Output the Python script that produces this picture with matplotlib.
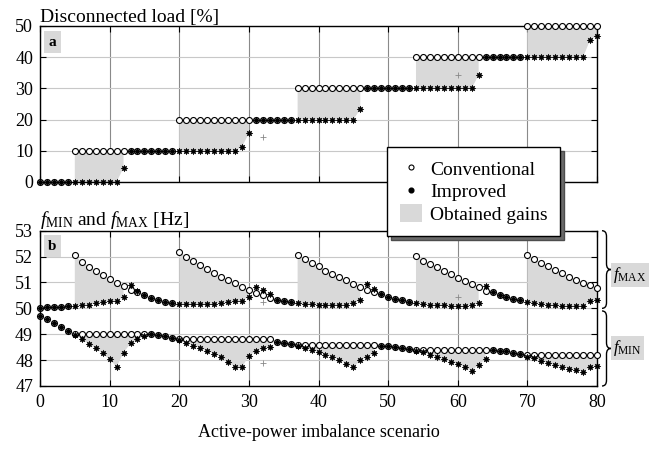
import numpy as np
import matplotlib
matplotlib.use("Agg")
import matplotlib.pyplot as plt
from matplotlib.lines import Line2D
from matplotlib.patches import Patch, PathPatch
from matplotlib.path import Path
from matplotlib.transforms import blended_transform_factory

plt.rcParams['font.family'] = ['Liberation Serif', 'DejaVu Serif']
plt.rcParams['mathtext.fontset'] = 'custom'
plt.rcParams['mathtext.rm'] = 'Liberation Serif'
plt.rcParams['mathtext.it'] = 'Liberation Serif:italic'
plt.rcParams['mathtext.bf'] = 'Liberation Serif:bold'

# ---------------- data ----------------
scenarios = list(range(81))

load_conv = [0, 0, 0, 0, 0,
             10, 10, 10, 10, 10, 10, 10, 10, 10, 10, 10, 10, 10, 10, 10,
             20, 20, 20, 20, 20, 20, 20, 20, 20, 20, 20, 20, 20, 20, 20, 20, 20,
             30, 30, 30, 30, 30, 30, 30, 30, 30, 30, 30, 30, 30, 30, 30, 30, 30,
             40, 40, 40, 40, 40, 40, 40, 40, 40, 40, 40, 40, 40, 40, 40, 40,
             50, 50, 50, 50, 50, 50, 50, 50, 50, 50, 50]

load_impr = [0, 0, 0, 0, 0, 0, 0, 0, 0, 0, 0, 0, 4.6,
             10, 10, 10, 10, 10, 10, 10, 10, 10, 10, 10, 10, 10, 10, 10, 10, 11.2, 15.6,
             20, 20, 20, 20, 20, 20, 20, 20, 20, 20, 20, 20, 20, 20, 20, 23.3,
             30, 30, 30, 30, 30, 30, 30, 30, 30, 30, 30, 30, 30, 30, 30, 30, 34.3,
             40, 40, 40, 40, 40, 40, 40, 40, 40, 40, 40, 40, 40, 40, 40, 45.5, 46.8]

fmax_conv = [50.03, 50.04, 50.05, 50.06, 50.08,
             52.07, 51.79, 51.61, 51.43, 51.28, 51.12, 50.98, 50.85, 50.71, 50.64,
             50.50, 50.41, 50.32, 50.26, 50.22,
             52.19, 52.00, 51.83, 51.68, 51.52, 51.37, 51.22, 51.10, 50.97, 50.84, 50.71, 50.61, 50.50, 50.41,
             50.32, 50.27, 50.23,
             52.07, 51.89, 51.77, 51.62, 51.46, 51.34, 51.22, 51.08, 50.95, 50.84, 50.71, 50.63,
             50.54, 50.45, 50.36, 50.31, 50.26,
             52.02, 51.84, 51.70, 51.58, 51.46, 51.33, 51.17, 51.04, 50.93, 50.81, 50.68,
             50.62, 50.53, 50.45, 50.37, 50.31,
             52.07, 51.91, 51.77, 51.62, 51.49, 51.35, 51.22, 51.10, 50.99, 50.90, 50.77]

fmax_impr = [50.03, 50.04, 50.05, 50.06, 50.08,
             50.09, 50.12, 50.14, 50.19, 50.24, 50.28, 50.30, 50.43, 50.89, 50.68,
             50.50, 50.41, 50.32, 50.26, 50.22,
             50.16, 50.15, 50.15, 50.15, 50.17, 50.18, 50.21, 50.23, 50.27, 50.30, 50.45, 50.82, 50.71, 50.54,
             50.32, 50.27, 50.23,
             50.19, 50.17, 50.15, 50.14, 50.13, 50.13, 50.13, 50.13, 50.21, 50.31, 50.94, 50.75,
             50.54, 50.45, 50.36, 50.31, 50.26,
             50.22, 50.17, 50.14, 50.13, 50.12, 50.10, 50.10, 50.10, 50.12, 50.19, 50.85,
             50.62, 50.53, 50.45, 50.37, 50.31,
             50.24, 50.21, 50.17, 50.14, 50.12, 50.10, 50.09, 50.09, 50.09, 50.30, 50.32]

fmin_conv = [49.72, 49.57, 49.42, 49.27, 49.12,
             49.00, 49.00, 49.00, 49.00, 49.00, 49.00, 49.00, 49.00, 49.00, 49.00, 49.00,
             49.00, 48.98, 48.92, 48.85,
             48.80, 48.80, 48.80, 48.80, 48.80, 48.80, 48.80, 48.80, 48.80, 48.80, 48.80, 48.80, 48.80, 48.80,
             48.71, 48.67, 48.62,
             48.60, 48.60, 48.60, 48.60, 48.60, 48.60, 48.60, 48.60, 48.60, 48.60, 48.60, 48.60,
             48.56, 48.54, 48.52, 48.48, 48.43,
             48.40, 48.40, 48.40, 48.40, 48.40, 48.40, 48.40, 48.40, 48.40, 48.40, 48.40,
             48.39, 48.36, 48.34, 48.29, 48.25,
             48.20, 48.20, 48.20, 48.20, 48.20, 48.20, 48.20, 48.20, 48.20, 48.20, 48.20]

fmin_impr = [49.72, 49.57, 49.42, 49.27, 49.12,
             48.98, 48.81, 48.63, 48.45, 48.26, 48.03, 47.74, 48.29, 48.65, 48.80, 48.93,
             49.00, 48.98, 48.92, 48.85,
             48.78, 48.67, 48.56, 48.47, 48.36, 48.25, 48.11, 47.94, 47.73, 47.72, 48.16, 48.34, 48.45, 48.52,
             48.71, 48.67, 48.62,
             48.54, 48.47, 48.39, 48.31, 48.21, 48.12, 48.02, 47.86, 47.72, 47.99, 48.13, 48.28,
             48.56, 48.54, 48.52, 48.48, 48.43,
             48.35, 48.30, 48.20, 48.11, 48.03, 47.94, 47.85, 47.72, 47.59, 47.82, 48.04,
             48.39, 48.36, 48.34, 48.29, 48.25,
             48.13, 48.07, 47.98, 47.87, 47.80, 47.73, 47.67, 47.62, 47.55, 47.73, 47.78]

# faint extra marks (grey crosses)
extra_load_x = [32, 60]
extra_load_y = [14.5, 34.3]
extra_freq_x = [32, 32, 60]
extra_freq_y = [50.23, 47.87, 50.43]

x_ticks = [0, 10, 20, 30, 40, 50, 60, 70, 80]
load_ticks = [0, 10, 20, 30, 40, 50]
freq_ticks = [47, 48, 49, 50, 51, 52, 53]

# ---------------- style ----------------
GAIN = '#d9d9d9'
FS = 14
TFS = 13
W, H = 650, 450

fig = plt.figure(figsize=(6.5, 4.5), dpi=100)
axL, axR = 40 / W, 597 / W
ax1 = fig.add_axes([axL, 1 - 182 / H, axR - axL, (182 - 26) / H])
ax2 = fig.add_axes([axL, 1 - 386 / H, axR - axL, (386 - 230.7) / H])

x = np.array(scenarios)


def style_axis(ax):
    ax.set_xlim(0, 80)
    ax.set_xticks(x_ticks)
    ax.tick_params(direction='in', top=True, right=True, length=4, width=0.8,
                   labelsize=TFS)
    ax.tick_params(axis='x', pad=6)
    ax.tick_params(axis='y', pad=5)
    ax.xaxis.grid(True, color='#8a8a8a', lw=0.8, zorder=0)
    ax.yaxis.grid(True, color='#c8c8c8', lw=0.8, zorder=0)
    ax.set_axisbelow(True)
    for s in ax.spines.values():
        s.set_linewidth(1.0)


def draw_pair(ax, conv, impr):
    conv = np.array(conv, float)
    impr = np.array(impr, float)
    mask = (conv - impr) > 0.015
    ax.fill_between(x, impr, conv, where=mask, color=GAIN, lw=0, zorder=1)
    ax.plot(x, conv, ls='none', marker='o', ms=4.3, mfc='white', mec='black',
            mew=0.8, zorder=3, clip_on=False)
    ax.plot(x, impr, ls='none', marker=(8, 1, 0), ms=5.0, color='black',
            mew=0.3, zorder=4, clip_on=False)


# ---- panel a ----
style_axis(ax1)
draw_pair(ax1, load_conv, load_impr)
ax1.plot(extra_load_x, extra_load_y, ls='none', marker='+', ms=4.5, color='#888888',
         mew=0.6, zorder=2)
ax1.set_ylim(0, 50)
ax1.set_yticks(load_ticks)
ax1.tick_params(labelbottom=False)
ax1.text(0, 1.0, 'Disconnected load [%]', transform=ax1.transAxes,
         ha='left', va='bottom', fontsize=FS)
ax1.text(0.0224, 0.897, 'a', transform=ax1.transAxes, ha='center', va='center',
         fontsize=11, fontweight='bold',
         bbox=dict(boxstyle='square,pad=0.3', facecolor=GAIN, edgecolor='none'))

# ---- panel b ----
style_axis(ax2)
draw_pair(ax2, fmax_conv, fmax_impr)
draw_pair(ax2, fmin_conv, fmin_impr)
ax2.plot(extra_freq_x, extra_freq_y, ls='none', marker='+', ms=4.5, color='#888888',
         mew=0.6, zorder=2)
ax2.set_ylim(47, 53)
ax2.set_yticks(freq_ticks)
ax2.set_xlabel('Active-power imbalance scenario', fontsize=13, labelpad=9)
ax2.text(0, 1.0, r'$f_{\mathrm{MIN}}$ and $f_{\mathrm{MAX}}$ [Hz]', transform=ax2.transAxes,
         ha='left', va='bottom', fontsize=FS)
ax2.text(0.0224, 0.901, 'b', transform=ax2.transAxes, ha='center', va='center',
         fontsize=11, fontweight='bold',
         bbox=dict(boxstyle='square,pad=0.3', facecolor=GAIN, edgecolor='none'))

# ---- curly braces on the right of panel b ----
tr = blended_transform_factory(ax2.transAxes, ax2.transData)
axw = (597 - 40)


def brace(y_top, y_bot, x0_px=602, w_px=9, d=0.22):
    x0 = (x0_px - 40) / axw
    xm = x0 + (w_px / 2) / axw
    x1 = x0 + w_px / axw
    ym = 0.5 * (y_top + y_bot)
    verts = [(x0, y_top), (xm, y_top), (xm, y_top - d),
             (xm, ym + d),
             (xm, ym), (x1, ym),
             (xm, ym), (xm, ym - d),
             (xm, y_bot + d),
             (xm, y_bot), (x0, y_bot)]
    codes = [Path.MOVETO, Path.CURVE3, Path.CURVE3,
             Path.LINETO,
             Path.CURVE3, Path.CURVE3,
             Path.CURVE3, Path.CURVE3,
             Path.LINETO,
             Path.CURVE3, Path.CURVE3]
    p = PathPatch(Path(verts, codes), transform=tr, fill=False, lw=1.0,
                  edgecolor='black', clip_on=False)
    ax2.add_patch(p)
    return ym


ym_max = brace(53.0, 50.0)
ym_min = brace(49.9, 47.0)
lx = (613 - 40) / axw
ax2.text(lx, ym_max - 0.2, r'$f_{\mathrm{MAX}}$', transform=tr, ha='left', va='center',
         fontsize=12, bbox=dict(boxstyle='square,pad=0.12', facecolor=GAIN, edgecolor='none'),
         clip_on=False)
ax2.text(lx, ym_min, r'$f_{\mathrm{MIN}}$', transform=tr, ha='left', va='center',
         fontsize=12, bbox=dict(boxstyle='square,pad=0.12', facecolor=GAIN, edgecolor='none'),
         clip_on=False)

# ---- legend ----
handles = [Line2D([], [], ls='none', marker='o', ms=3.6, mfc='white', mec='black', mew=0.8),
           Line2D([], [], ls='none', marker='o', ms=3.4, color='black'),
           Patch(facecolor=GAIN, edgecolor='none')]
labels = ['Conventional', 'Improved', 'Obtained gains']
leg = fig.legend(handles, labels, loc='upper left',
                 bbox_to_anchor=(387 / W, 1 - 147 / H), bbox_transform=fig.transFigure,
                 fontsize=FS, frameon=True, fancybox=False, framealpha=1,
                 edgecolor='black', borderaxespad=0, handlelength=1.15, handleheight=1.0,
                 labelspacing=0.15, handletextpad=0.4, borderpad=0.65,
                 shadow={'ox': 3, 'oy': -3, 'facecolor': '#6a6a6a', 'alpha': 1})
leg.get_frame().set_linewidth(1.0)
leg.set_zorder(10)

fig.savefig('out.png', dpi=100)
